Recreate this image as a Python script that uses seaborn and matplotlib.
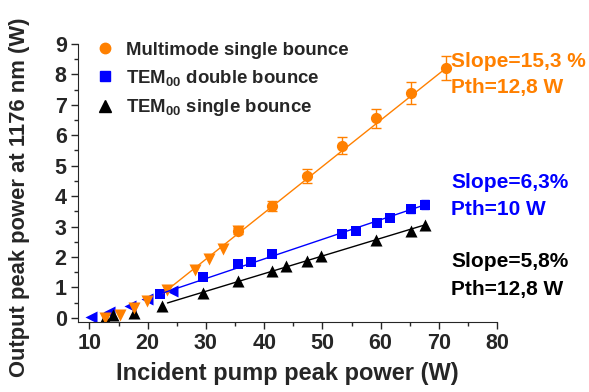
import numpy as np
import pandas as pd
import matplotlib
matplotlib.use("Agg")
import matplotlib.pyplot as plt
import seaborn as sns
from matplotlib.lines import Line2D
from matplotlib.ticker import MultipleLocator

# ---------data------------------------------------------------------------
# multimode single bounce (orange): circles at high power, down triangles at low power
mm_x = [35.5, 41.4, 47.4, 53.3, 59.2, 65.2, 71.2]
mm_y = [2.84, 3.68, 4.67, 5.66, 6.55, 7.39, 8.20]
mm_err = [0.10, 0.16, 0.23, 0.27, 0.32, 0.37, 0.39]
mm_low_x = [12.6, 15.2, 17.6, 19.9, 23.4, 28.1, 30.6, 32.9, 35.5]
mm_low_y = [0.00, 0.10, 0.33, 0.54, 0.90, 1.58, 1.94, 2.27, 2.84]

# TEM00 double bounce (blue): squares and left triangles
db_x = [22.2, 29.5, 35.5, 37.8, 41.4, 53.3, 55.8, 59.3, 61.6, 65.2, 67.7]
db_y = [0.79, 1.33, 1.76, 1.84, 2.09, 2.75, 2.84, 3.13, 3.28, 3.58, 3.72]
db_err = [0.05, 0.05, 0.06, 0.06, 0.07, 0.08, 0.08, 0.10, 0.11, 0.13, 0.15]
db_low_x = [10.3, 13.4, 16.9, 19.9, 24.1]
db_low_y = [0.02, 0.20, 0.39, 0.61, 0.89]

# TEM00 single bounce (black): up triangles
sb_x = [12.6, 14.1, 17.6, 22.4, 29.5, 35.5, 41.4, 43.8, 47.4, 49.7, 59.2, 65.2, 67.7]
sb_y = [0.00, 0.10, 0.15, 0.39, 0.83, 1.20, 1.55, 1.72, 1.88, 2.02, 2.57, 2.86, 3.06]

# linear fits (end points)
mm_fit_x, mm_fit_y = [22.6, 71.2], [0.80, 8.20]
db_fit_x, db_fit_y = [22.2, 67.7], [0.79, 3.72]
sb_fit_x, sb_fit_y = [23.4, 67.7], [0.49, 3.06]

orange = "#FF8000"
blue = "#0000FF"
black = "#000000"

# ---------style-------------------------------------------------------------
sns.set_style("ticks")
plt.rcParams["font.family"] = ["Liberation Sans", "DejaVu Sans"]
plt.rcParams["font.weight"] = "bold"
plt.rcParams["mathtext.fontset"] = "custom"
plt.rcParams["mathtext.rm"] = "Liberation Sans:bold"
plt.rcParams["mathtext.bf"] = "Liberation Sans:bold"
plt.rcParams["mathtext.default"] = "rm"

fig = plt.figure(figsize=(5.89, 3.92), dpi=100)
ax = fig.add_axes([0.132, 0.179, 0.712, 0.709])

# fit lines
sns.lineplot(x=mm_fit_x, y=mm_fit_y, color=orange, lw=1.0, ax=ax)
sns.lineplot(x=db_fit_x, y=db_fit_y, color=blue, lw=1.0, ax=ax)
sns.lineplot(x=sb_fit_x, y=sb_fit_y, color=black, lw=1.0, ax=ax)

# error bars
ax.errorbar(mm_x, mm_y, yerr=mm_err, fmt="none", ecolor=orange, elinewidth=1, capsize=3.5, capthick=1)
ax.errorbar(db_x, db_y, yerr=db_err, fmt="none", ecolor=blue, elinewidth=1, capsize=3, capthick=1)

# markers
sns.scatterplot(x=db_low_x, y=db_low_y, marker="<", s=75, color=blue, edgecolor=blue, linewidth=0, ax=ax)
sns.scatterplot(x=db_x, y=db_y, marker="s", s=60, color=blue, edgecolor=blue, linewidth=0, ax=ax)
sns.scatterplot(x=sb_x, y=sb_y, marker="^", s=75, color=black, edgecolor=black, linewidth=0, ax=ax)
sns.scatterplot(x=mm_low_x, y=mm_low_y, marker="v", s=75, color=orange, edgecolor=orange, linewidth=0, ax=ax)
sns.scatterplot(x=mm_x, y=mm_y, marker="o", s=65, color=orange, edgecolor=orange, linewidth=0, ax=ax)

# axes
ax.set_xlim(8, 80)
ax.set_ylim(-0.13, 9)
ax.xaxis.set_major_locator(MultipleLocator(10))
ax.xaxis.set_minor_locator(MultipleLocator(5))
ax.yaxis.set_major_locator(MultipleLocator(1))
ax.yaxis.set_minor_locator(MultipleLocator(0.5))
ax.tick_params(which="major", direction="out", length=5, width=1, labelsize=15.5, pad=3)
ax.tick_params(which="minor", direction="out", length=3, width=1)
for lab in ax.get_xticklabels() + ax.get_yticklabels():
    lab.set_fontweight("bold")
sns.despine(ax=ax)
ax.spines["left"].set_bounds(-0.13, 9)
ax.set_xlabel("Incident pump peak power (W)", fontsize=17, fontweight="bold", labelpad=6)
ax.set_ylabel("Output peak power at 1176 nm (W)", fontsize=15.8, fontweight="bold")
ax.yaxis.set_label_coords(-0.115, 0.45)

# legend
handles = [
    Line2D([], [], ls="none", marker="o", color=orange, markersize=7.5),
    Line2D([], [], ls="none", marker="s", color=blue, markersize=7),
    Line2D([], [], ls="none", marker="^", color=black, markersize=8),
]
labels = ["Multimode single bounce", "TEM$_{00}$ double bounce", "TEM$_{00}$ single bounce"]
leg = ax.legend(handles, labels, loc="upper left", bbox_to_anchor=(0.02, 1.035),
                frameon=False, fontsize=13.4, handletextpad=0.55, labelspacing=0.5,
                handlelength=1.2, borderaxespad=0)
for t in leg.get_texts():
    t.set_fontweight("bold")

# slope annotations, one line each
note_x = [72.1, 72.1, 72.1, 72.1, 72.1, 72.1]
note_y = [8.42, 7.57, 4.44, 3.55, 1.84, 0.92]
note_txt = ["Slope=15,3 %", "Pth=12,8 W", "Slope=6,3%", "Pth=10 W", "Slope=5,8%", "Pth=12,8 W"]
note_col = [orange, orange, blue, blue, black, black]
for x, y, txt, c in zip(note_x, note_y, note_txt, note_col):
    ax.text(x, y, txt, color=c, fontsize=15, fontweight="bold", va="center", ha="left",
            clip_on=False)

fig.savefig("out.png", dpi=100)
